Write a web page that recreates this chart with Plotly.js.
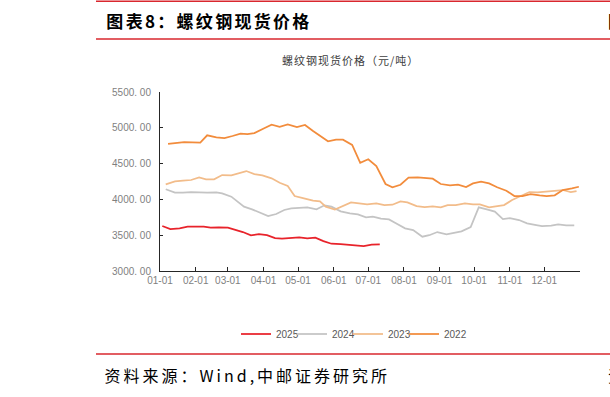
<!DOCTYPE html>
<html>
<head>
<meta charset="utf-8">
<script src="https://cdn.plot.ly/plotly-3.0.1.min.js"></script>
<style>
html,body{margin:0;padding:0;background:#fff;overflow:hidden;}
#chart{width:610px;height:397px;}
#chart g.annotation[data-index="0"] text{letter-spacing:2.3px;}
#chart g.annotation[data-index="2"] text{letter-spacing:3px;}
#chart g.annotation[data-index="1"] text{letter-spacing:1px;}
#chart g.legend g.scrollbox{clip-path:none !important;}
</style>
</head>
<body>
<div id="chart"></div>
<script>
// ---- data (MM-DD, weekly spot price, yuan/ton) ----
const dates2025 = ["01-03","01-10","01-18","01-25","02-01","02-08","02-14","02-21","03-01","03-08","03-14","03-21","03-28","04-04","04-11","04-17","04-25","05-02","05-09","05-16","05-23","05-30","06-07","06-14","06-21","06-27","07-04","07-11"];
const values2025 = [3628,3586,3596,3619,3619,3619,3605,3610,3605,3572,3544,3498,3516,3502,3460,3451,3456,3470,3456,3465,3418,3381,3377,3367,3358,3349,3367,3372];

const dates2024 = ["01-06","01-14","01-21","01-28","02-04","02-11","02-19","02-24","03-04","03-09","03-15","03-22","03-30","04-05","04-12","04-19","04-25","05-02","05-09","05-17","05-24","05-30","06-07","06-15","06-22","06-29","07-05","07-12","07-19","07-25","08-02","08-09","08-17","08-23","08-30","09-07","09-14","09-20","09-28","10-05","10-12","10-19","10-26","11-01","11-09","11-16","11-24","11-29","12-07","12-13","12-20","12-27"];
const values2024 = [4141,4094,4094,4103,4099,4094,4099,4085,4038,3969,3898,3861,3805,3768,3796,3852,3875,3882,3889,3861,3917,3898,3833,3805,3791,3749,3759,3731,3721,3666,3596,3572,3479,3500,3544,3512,3540,3554,3614,3889,3861,3829,3726,3740,3712,3666,3642,3628,3633,3652,3638,3638];

const dates2023 = ["01-06","01-14","01-21","01-28","02-04","02-10","02-17","02-24","03-04","03-11","03-17","03-24","03-31","04-08","04-15","04-22","04-28","05-07","05-14","05-20","05-25","06-02","06-09","06-16","06-23","06-30","07-08","07-15","07-22","07-29","08-04","08-12","08-19","08-26","09-02","09-08","09-15","09-23","09-30","10-06","10-14","10-20","10-27","11-03","11-12","11-18","11-25","12-03","12-10","12-17","12-24","12-29"];
const values2023 = [4210,4252,4262,4271,4308,4280,4280,4340,4336,4373,4396,4354,4336,4294,4233,4187,4047,4010,3982,3973,3898,3857,3907,3959,3945,3931,3945,3921,3926,3973,3959,3907,3893,3903,3889,3921,3921,3945,3931,3931,3889,3907,3921,3991,4061,4103,4099,4108,4117,4131,4103,4117];

const dates2022 = ["01-08","01-22","02-05","02-11","02-19","02-26","03-05","03-12","03-18","03-24","04-02","04-08","04-15","04-22","04-30","05-07","05-14","05-21","05-27","06-03","06-09","06-17","06-24","07-01","07-08","07-16","07-22","07-29","08-05","08-13","08-20","08-26","09-02","09-10","09-17","09-24","09-30","10-07","10-14","10-21","10-29","11-05","11-12","11-19","11-27","12-03","12-10","12-17","12-25","12-31"];
const values2022 = [4774,4801,4792,4895,4867,4857,4885,4918,4913,4927,4997,5043,5015,5048,5011,5039,4955,4876,4811,4834,4834,4760,4512,4560,4466,4215,4169,4205,4303,4308,4294,4289,4215,4197,4205,4173,4224,4247,4224,4169,4121,4047,4047,4075,4057,4047,4057,4131,4154,4177];

const seriesNames = ["2025","2024","2023","2022"];
const monthTicks = ["01-01","02-01","03-01","04-01","05-01","06-01","07-01","08-01","09-01","10-01","11-01","12-01"];
const yTickValues = [3000,3500,4000,4500,5000,5500];
const yTickLabels = ["3000. 00","3500. 00","4000. 00","4500. 00","5000. 00","5500. 00"];

// ---- chart ----
const BASE_YEAR = "2001-";
const toDate = arr => arr.map(d => BASE_YEAR + d);
const colors = ["#E8232B","#C4C4C4","#F2BC8A","#F28C3C"];
const dateSets = [dates2025,dates2024,dates2023,dates2022];
const valueSets = [values2025,values2024,values2023,values2022];

const traces = seriesNames.map((n,i)=>({
  type:"scatter", mode:"lines", name:n,
  x: toDate(dateSets[i]), y: valueSets[i],
  line:{color:colors[i], width:1.75}
}));

const L=160, R=30, T=92, B=126, W=610, H=397;
const pw = W-L-R, ph = H-T-B;
const px = x => (x-L)/pw;
const py = y => (H-B-y)/ph;

const layout = {
  width:W, height:H,
  margin:{l:L,r:R,t:T,b:B,pad:0},
  paper_bgcolor:"#fff", plot_bgcolor:"#fff",
  showlegend:true,
  legend:{orientation:"h", x:px(236), xanchor:"left", y:py(334), yanchor:"middle",
          font:{family:"Liberation Sans, Arial", size:10, color:"#595959"},
          entrywidth:11, itemwidth:30, traceorder:"normal"},
  xaxis:{type:"date", range:["2001-01-01","2002-01-01"],
         tickvals: monthTicks.map(m=>BASE_YEAR+m), ticktext: monthTicks,
         showgrid:false, zeroline:false, showline:true, linecolor:"#262626", linewidth:1,
         ticks:"inside", ticklen:4, tickcolor:"#262626",
         tickfont:{family:"Liberation Sans, Arial", size:10, color:"#7f7f7f"}, fixedrange:true},
  yaxis:{range:[3000,5500], tickvals:yTickValues, ticktext:yTickLabels,
         showgrid:false, zeroline:false, showline:true, linecolor:"#262626", linewidth:1,
         ticks:"inside", ticklen:3, tickcolor:"#262626", ticklabelstandoff:6,
         tickfont:{family:"Liberation Sans, Arial", size:10, color:"#7f7f7f"}, fixedrange:true},
  shapes:[
    {type:"line", xref:"paper", yref:"paper", x0:px(96), x1:px(612), y0:py(1.2), y1:py(1.2), line:{color:"#D9272E", width:1.5}},
    {type:"line", xref:"paper", yref:"paper", x0:px(96), x1:px(612), y0:py(39), y1:py(39), line:{color:"#D9272E", width:1.5}},
    {type:"line", xref:"paper", yref:"paper", x0:px(96), x1:px(612), y0:py(354), y1:py(354), line:{color:"#D9272E", width:1.5}}
  ],
  annotations:[
    {text:"图表8：螺纹钢现货价格", xref:"paper", yref:"paper", x:px(117), y:py(20), xanchor:"left", yanchor:"middle", showarrow:false,
     font:{family:"Noto Sans CJK SC", size:17, color:"#000", weight:"bold"}},
    {text:"螺纹钢现货价格（元/吨）", xref:"paper", yref:"paper", x:px(350), y:py(60), xanchor:"center", yanchor:"middle", showarrow:false,
     font:{family:"Noto Sans CJK SC", size:11, color:"#404040"}},
    {text:"资料来源：Wind,中邮证券研究所", xref:"paper", yref:"paper", x:px(128), y:py(375), xanchor:"left", yanchor:"middle", showarrow:false,
     font:{family:"Noto Sans CJK SC", size:16, color:"#000"}},
    {text:"图", xref:"paper", yref:"paper", x:px(606), y:py(20), xanchor:"left", yanchor:"middle", showarrow:false,
     font:{family:"Noto Sans CJK SC", size:17, color:"#000", weight:"bold"}},
    {text:"资", xref:"paper", yref:"paper", x:px(606), y:py(375), xanchor:"left", yanchor:"middle", showarrow:false,
     font:{family:"Noto Sans CJK SC", size:16, color:"#000"}}
  ]
};

Plotly.newPlot("chart", traces, layout, {displayModeBar:false, staticPlot:true});
</script>
</body>
</html>
